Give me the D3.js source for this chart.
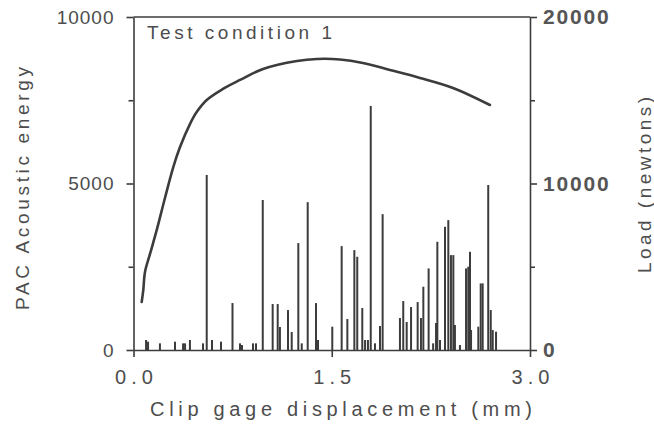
<!DOCTYPE html>
<html>
<head>
<meta charset="utf-8">
<script src="https://cdn.jsdelivr.net/npm/d3@7"></script>
<style>
  body { margin: 0; background: #fff; }
  text { font-family: "Liberation Sans", Arial, Helvetica, sans-serif; fill: #4d4d4d; }
</style>
</head>
<body>
<div id="chart"></div>
<script>

// acoustic emission hits: displacement (mm) and energy
var hitMm = [0.095, 0.110, 0.200, 0.314, 0.375, 0.390, 0.427, 0.526, 0.554, 0.594,
  0.662, 0.749, 0.806, 0.821, 0.904, 0.927, 0.978, 1.053, 1.091, 1.108,
  1.169, 1.197, 1.247, 1.273, 1.318, 1.381, 1.396, 1.504, 1.575, 1.618,
  1.671, 1.693, 1.731, 1.752, 1.774, 1.795, 1.827, 1.865, 1.885, 2.016,
  2.041, 2.067, 2.100, 2.150, 2.175, 2.193, 2.233, 2.267, 2.289, 2.299,
  2.319, 2.357, 2.382, 2.402, 2.420, 2.432, 2.470, 2.516, 2.533, 2.546,
  2.554, 2.609, 2.627, 2.642, 2.684, 2.703, 2.718, 2.743];
var hitEnergy = [300, 250, 200, 250, 200, 200, 300, 200, 5255, 300,
  250, 1410, 200, 150, 200, 200, 4505, 1380, 1380, 690,
  1200, 540, 3210, 200, 4440, 1410, 300, 700, 3120, 930,
  3000, 2800, 1260, 300, 300, 7330, 200, 720, 4080, 960,
  1470, 840, 1290, 1440, 960, 1900, 2450, 200, 810, 3250,
  300, 3700, 3900, 2850, 2850, 750, 150, 2450, 2500, 2950,
  600, 700, 2000, 2000, 4955, 1200, 600, 550];

// load curve
var loadMm = [0.062, 0.074, 0.087, 0.125, 0.176, 0.238, 0.301, 0.352, 0.427, 0.478,
  0.554, 0.677, 0.806, 0.980, 1.237, 1.388, 1.562, 1.736, 1.940, 2.168,
  2.417, 2.697];
var loadN = [2880, 3600, 4690, 5770, 7210, 9130, 10990, 12190, 13570, 14290,
  15015, 15680, 16220, 16880, 17360, 17480, 17450, 17240, 16820, 16340,
  15740, 14715];

var xTicks = [0, 1.5, 3.0];
var energyTicks = [0, 5000, 10000];
var energyMinor = [2500, 7500];
var loadTicks = [0, 10000, 20000];
var loadMinor = [5000, 15000];

var width = 654, height = 424;
var ink = "#3c3c3c";

var svg = d3.select("#chart").append("svg")
  .attr("width", width)
  .attr("height", height);

var x = d3.scaleLinear().domain([0, 3]).range([133.5, 530]);
var yE = d3.scaleLinear().domain([0, 10000]).range([350, 17]);
var yL = d3.scaleLinear().domain([0, 20000]).range([350, 17]);

// frame top
svg.append("line")
  .attr("x1", x(0)).attr("x2", x(3))
  .attr("y1", yE(10000)).attr("y2", yE(10000))
  .attr("stroke", ink).attr("stroke-width", 1.6);

// spikes
svg.append("g").selectAll("line")
  .data(d3.range(hitMm.length))
  .enter().append("line")
  .attr("x1", function(i) { return x(hitMm[i]); })
  .attr("x2", function(i) { return x(hitMm[i]); })
  .attr("y1", yE(0))
  .attr("y2", function(i) { return yE(hitEnergy[i]); })
  .attr("stroke", ink)
  .attr("stroke-width", 2);

// load curve
var line = d3.line()
  .x(function(i) { return x(loadMm[i]); })
  .y(function(i) { return yL(loadN[i]); })
  .curve(d3.curveCatmullRom);

svg.append("path")
  .datum(d3.range(loadMm.length))
  .attr("d", line)
  .attr("fill", "none")
  .attr("stroke", ink)
  .attr("stroke-width", 2.6)
  .attr("stroke-linecap", "round");

function styleAxis(g) {
  g.selectAll("path, line").attr("stroke", ink).attr("stroke-width", 1.6);
  g.selectAll("text").style("fill", "#4d4d4d")
    .attr("font-family", "Liberation Sans, Arial, sans-serif");
}

// left axis
var left = svg.append("g")
  .attr("transform", "translate(" + x(0) + ",0)")
  .call(d3.axisLeft(yE).tickValues(energyTicks).tickSize(7).tickSizeOuter(0)
    .tickPadding(12).tickFormat(d3.format("d")));
styleAxis(left);
left.selectAll("text").attr("font-size", 19).style("letter-spacing", "1px");

svg.append("g")
  .attr("transform", "translate(" + x(0) + ",0)")
  .call(d3.axisLeft(yE).tickValues(energyMinor).tickSize(5).tickFormat(""))
  .call(function(g) { g.select(".domain").remove(); })
  .call(styleAxis);

// right axis
var right = svg.append("g")
  .attr("transform", "translate(" + x(3) + ",0)")
  .call(d3.axisRight(yL).tickValues(loadTicks).tickSize(7).tickSizeOuter(0)
    .tickPadding(6).tickFormat(d3.format("d")));
styleAxis(right);
right.selectAll("text").attr("font-size", 21).style("letter-spacing", "1.8px")
  .attr("font-weight", "bold").style("fill", "#555");

svg.append("g")
  .attr("transform", "translate(" + x(3) + ",0)")
  .call(d3.axisRight(yL).tickValues(loadMinor).tickSize(5).tickFormat(""))
  .call(function(g) { g.select(".domain").remove(); })
  .call(styleAxis);

// bottom axis
var bottom = svg.append("g")
  .attr("transform", "translate(0," + yE(0) + ")")
  .call(d3.axisBottom(x).tickValues(xTicks).tickSize(7).tickSizeOuter(0)
    .tickPadding(13).tickFormat(d3.format(".1f")));
styleAxis(bottom);
bottom.selectAll("text").attr("font-size", 20).style("letter-spacing", "5px")
  .attr("dx", 2.5);

// titles
svg.append("text")
  .attr("x", 147).attr("y", 39)
  .attr("font-size", 19)
  .attr("textLength", 185)
  .attr("lengthAdjust", "spacing")
  .text("Test condition 1");

svg.append("text")
  .attr("x", 150).attr("y", 416)
  .attr("font-size", 20)
  .attr("textLength", 382)
  .attr("lengthAdjust", "spacing")
  .text("Clip gage displacement (mm)");

svg.append("text")
  .attr("transform", "translate(29,310) rotate(-90)")
  .attr("font-size", 19)
  .attr("textLength", 243)
  .attr("lengthAdjust", "spacing")
  .text("PAC Acoustic energy");

svg.append("text")
  .attr("transform", "translate(651,273) rotate(-90)")
  .attr("font-size", 19)
  .attr("textLength", 176)
  .attr("lengthAdjust", "spacing")
  .text("Load (newtons)");

</script>
</body>
</html>
